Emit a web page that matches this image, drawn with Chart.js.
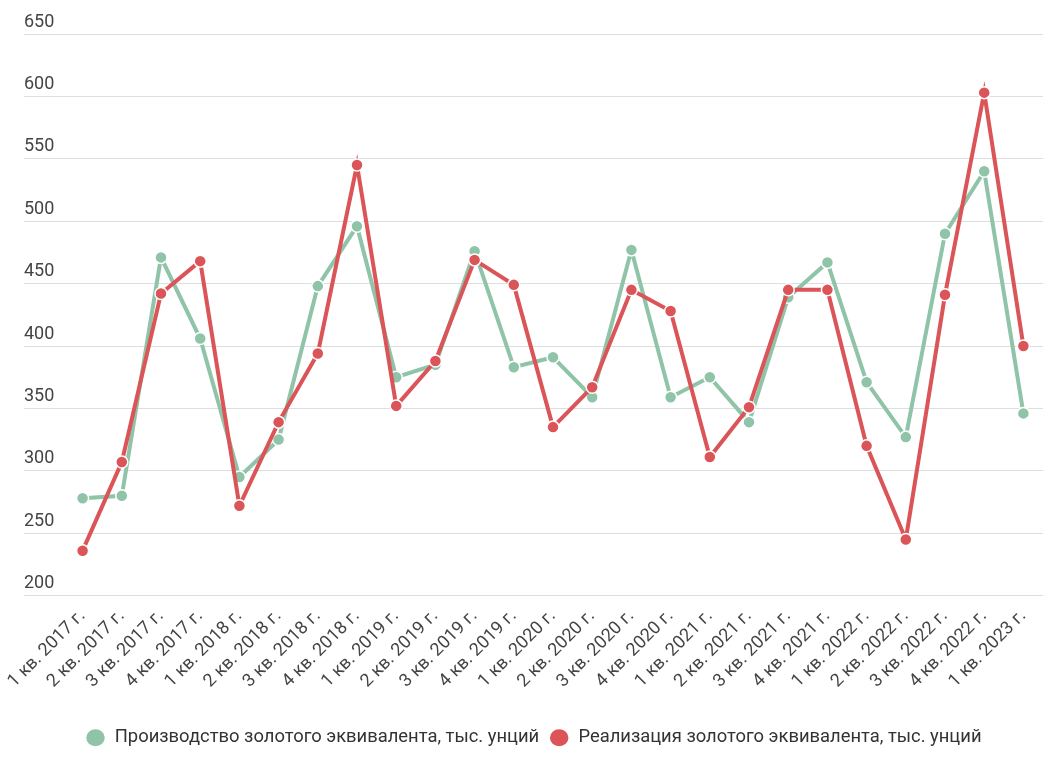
<!DOCTYPE html>
<html>
<head>
<meta charset="utf-8">
<script src="https://cdn.jsdelivr.net/npm/chart.js@4/dist/chart.umd.min.js"></script>
<style>
html, body { margin: 0; padding: 0; background: #fff; }
#wrap { width: 1054px; height: 764px; }
</style>
</head>
<body>
<div id="wrap"><canvas id="chart"></canvas></div>
<script>
var quarters = [
	'1 кв. 2017 г.', '2 кв. 2017 г.', '3 кв. 2017 г.', '4 кв. 2017 г.',
	'1 кв. 2018 г.', '2 кв. 2018 г.', '3 кв. 2018 г.', '4 кв. 2018 г.',
	'1 кв. 2019 г.', '2 кв. 2019 г.', '3 кв. 2019 г.', '4 кв. 2019 г.',
	'1 кв. 2020 г.', '2 кв. 2020 г.', '3 кв. 2020 г.', '4 кв. 2020 г.',
	'1 кв. 2021 г.', '2 кв. 2021 г.', '3 кв. 2021 г.', '4 кв. 2021 г.',
	'1 кв. 2022 г.', '2 кв. 2022 г.', '3 кв. 2022 г.', '4 кв. 2022 г.',
	'1 кв. 2023 г.'
];
var production = [278, 280, 471, 406, 295, 325, 448, 496, 375, 385, 476, 383, 391,
	359, 477, 359, 375, 339, 439, 467, 371, 327, 490, 540, 346];
var sales = [236, 307, 442, 468, 272, 339, 394, 545, 352, 388, 469, 449, 335,
	367, 445, 428, 311, 351, 445, 445, 320, 245, 441, 603, 400];
var yMin = 200;
var yMax = 650;
var yStep = 50;

var green = '#8fc4a8';
var red = '#db5458';

function lineSet(label, data, color, order){
	return {
		label: label,
		data: data,
		borderColor: color,
		backgroundColor: color,
		borderWidth: 4,
		tension: 0,
		pointRadius: 6,
		pointHoverRadius: 6,
		pointBackgroundColor: color,
		pointBorderColor: '#fff',
		pointBorderWidth: 1.5,
		order: order
	};
}

Chart.defaults.font.family = 'Roboto, "Noto Sans", sans-serif';
Chart.defaults.color = '#444';

new Chart(document.getElementById('chart'), {
	type: 'line',
	data: {
		labels: quarters,
		datasets: [
			lineSet('Производство золотого эквивалента, тыс. унций', production, green, 1),
			lineSet('Реализация золотого эквивалента, тыс. унций', sales, red, 0)
		]
	},
	options: {
		responsive: true,
		maintainAspectRatio: false,
		animation: false,
		layout: { padding: { left: 24, right: 11, top: 34, bottom: 7 } },
		plugins: {
			tooltip: { enabled: false },
			legend: {
				position: 'bottom',
				labels: {
					usePointStyle: true,
					pointStyle: 'circle',
					pointStyleWidth: 20,
					boxWidth: 20,
					boxHeight: 13,
					padding: 10,
					color: '#333',
					font: { size: 18.4 },
					sort: function(a, b){ return a.datasetIndex - b.datasetIndex; }
				}
			}
		},
		scales: {
			x: {
				offset: true,
				grid: { display: false },
				border: { display: false },
				afterFit: function(scale){ scale.height = 123; },
				ticks: {
					maxRotation: 45,
					minRotation: 45,
					autoSkip: false,
					color: '#444',
					font: { size: 18 },
					padding: 2
				}
			},
			y: {
				min: yMin,
				max: yMax,
				border: { display: false },
				grid: { color: '#dedede', lineWidth: 1, tickLength: 39, tickColor: '#dedede' },
				afterFit: function(scale){ scale.width = 39; },
				ticks: {
					stepSize: yStep,
					crossAlign: 'far',
					labelOffset: -12,
					padding: 0,
					color: '#444',
					font: { size: 18 }
				}
			}
		}
	}
});
</script>
</body>
</html>
